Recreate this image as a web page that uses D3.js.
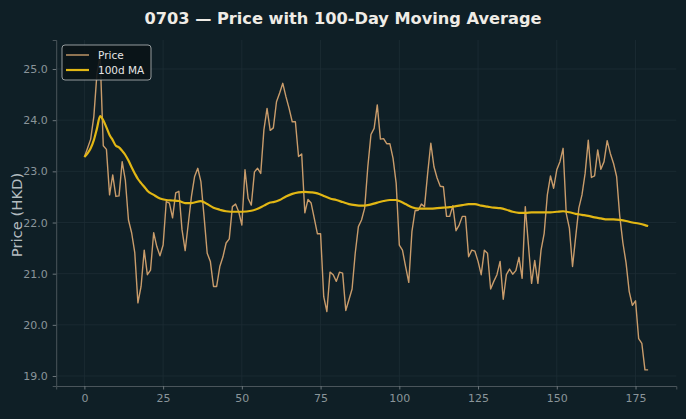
<!DOCTYPE html>
<html>
<head>
<meta charset="utf-8">
<script src="https://cdn.jsdelivr.net/npm/d3@7"></script>
<style>
  body { margin: 0; background: #0f1f26; }
  svg { display: block; }
</style>
</head>
<body>
<div id="container"></div>
<script>
let w = 686;
let h = 419;

// DATA
let price = [23.28, 23.45, 23.63, 24.07, 24.92, 25.26, 23.50, 23.43, 22.54, 22.93,
  22.51, 22.52, 23.19, 22.83, 22.05, 21.80, 21.41, 20.43, 20.75, 21.46,
  20.98, 21.07, 21.80, 21.53, 21.35, 21.56, 22.41, 22.38, 22.09, 22.58,
  22.61, 21.86, 21.45, 21.98, 22.51, 22.90, 23.06, 22.80, 22.12, 21.40,
  21.24, 20.75, 20.75, 21.14, 21.33, 21.60, 21.68, 22.31, 22.36, 22.21,
  21.95, 23.03, 22.47, 22.34, 22.99, 23.06, 22.96, 23.81, 24.23, 23.80,
  23.85, 24.36, 24.53, 24.72, 24.46, 24.23, 23.97, 23.97, 23.29, 23.34,
  22.19, 22.45, 22.38, 22.08, 21.78, 21.78, 20.55, 20.26, 21.03, 20.98,
  20.85, 21.03, 21.01, 20.28, 20.49, 20.70, 21.40, 21.92, 22.05, 22.28,
  23.09, 23.72, 23.84, 24.30, 23.63, 23.64, 23.54, 23.54, 23.26, 22.77,
  21.56, 21.46, 21.14, 20.83, 21.82, 22.23, 22.24, 22.36, 22.31, 22.96,
  23.55, 23.09, 22.87, 22.71, 22.70, 22.12, 22.12, 22.33, 21.84, 21.95,
  22.12, 22.12, 21.33, 21.46, 21.44, 21.24, 20.98, 21.46, 21.40, 20.70,
  20.85, 20.98, 21.24, 20.50, 20.98, 21.09, 20.99, 21.06, 21.32, 20.91,
  22.31, 21.56, 20.81, 21.26, 20.81, 21.46, 21.79, 22.54, 22.91, 22.67,
  23.03, 23.19, 23.45, 22.18, 21.89, 21.14, 21.72, 22.28, 22.54, 22.96,
  23.61, 22.88, 22.91, 23.42, 23.04, 23.19, 23.60, 23.35, 23.16, 22.90,
  22.12, 21.60, 21.21, 20.65, 20.38, 20.47, 19.73, 19.64, 19.12, 19.12];

let maDay = [0, 1, 2, 3, 4, 5, 6, 7, 8, 9, 10, 11, 12, 13, 14, 15, 16, 17, 18, 19, 20, 22, 24, 26, 28,
  30, 32, 34, 37, 39, 41, 43, 45, 48, 50, 53, 55, 57, 59, 60, 62, 64, 66, 68, 70, 72, 74, 76, 78, 80,
  82, 84, 86, 88, 90, 93, 95, 97, 99, 100, 102, 104, 106, 108, 110, 112, 114, 116, 118, 120, 122,
  124, 126, 128, 130, 132, 134, 136, 138, 140, 142, 144, 146, 148, 150, 152, 154, 156, 158, 160,
  162, 164, 166, 168, 170, 172, 174, 176, 178, 179];
let maValue = [23.28, 23.35, 23.45, 23.61, 23.84, 24.08, 24.00, 23.86, 23.71, 23.61, 23.50, 23.47, 23.40,
  23.32, 23.21, 23.08, 22.96, 22.85, 22.77, 22.70, 22.62, 22.54, 22.47, 22.44, 22.43,
  22.42, 22.38, 22.38, 22.42, 22.36, 22.29, 22.25, 22.22, 22.21, 22.21, 22.23, 22.27, 22.33, 22.39, 22.40,
  22.44, 22.51, 22.56, 22.59, 22.60, 22.59, 22.57, 22.52, 22.47, 22.44,
  22.40, 22.36, 22.34, 22.33, 22.34, 22.39, 22.42, 22.44, 22.44, 22.42, 22.36, 22.30, 22.27, 22.27,
  22.27, 22.28, 22.29, 22.30, 22.32, 22.34, 22.36,
  22.36, 22.33, 22.31, 22.29, 22.28, 22.25, 22.21, 22.19, 22.19, 22.20, 22.20, 22.20, 22.20, 22.21,
  22.22, 22.20, 22.17, 22.15, 22.13, 22.10, 22.08, 22.06, 22.06, 22.05, 22.03, 22.00, 21.98, 21.95, 21.93];

let xTicks = [0, 25, 50, 75, 100, 125, 150, 175];
let yTicks = [19, 20, 21, 22, 23, 24, 25];

let priceColor = "#c99c6b";
let maColor = "#e2b714";

// SVG
let viz = d3.select("#container").append("svg")
  .attr("width", w)
  .attr("height", h)
  .style("background-color", "#0f1f26");

let xScale = d3.scaleLinear().domain([-8.95, 187.95]).range([56.2, 676.3]);
let yScale = d3.scaleLinear().domain([18.805, 25.567]).range([386, 40]);

// grid
viz.selectAll(".vgrid").data(xTicks).enter()
  .append("line")
  .attr("x1", d => xScale(d)).attr("x2", d => xScale(d))
  .attr("y1", 40).attr("y2", 386)
  .attr("stroke", "#1d2d35").attr("stroke-width", 0.8);
viz.selectAll(".hgrid").data(yTicks).enter()
  .append("line")
  .attr("y1", d => yScale(d)).attr("y2", d => yScale(d))
  .attr("x1", 56.2).attr("x2", 676.3)
  .attr("stroke", "#1d2d35").attr("stroke-width", 0.8);

// axes
let xAxis = viz.append("g")
  .attr("transform", "translate(0,386)")
  .call(d3.axisBottom(xScale).tickValues(xTicks).tickSize(3.5).tickPadding(5));
let yAxis = viz.append("g")
  .attr("transform", "translate(56.2,0)")
  .call(d3.axisLeft(yScale).tickValues(yTicks).tickSize(3.5).tickPadding(5));

[xAxis, yAxis].forEach(a => {
  a.select(".domain").attr("stroke", "#4a555b");
  a.selectAll(".tick line").attr("stroke", "#6b757a");
  a.selectAll(".tick text")
    .attr("fill", "#8a959a")
    .style("font-family", "DejaVu Sans")
    .style("font-size", "11px");
});

// lines
let priceLine = d3.line()
  .x((d, i) => xScale(i))
  .y(d => yScale(d));

viz.append("path")
  .datum(price)
  .attr("d", priceLine)
  .attr("fill", "none")
  .attr("stroke", priceColor)
  .attr("stroke-width", 1.4)
  .attr("stroke-linejoin", "round");

let maLine = d3.line()
  .curve(d3.curveMonotoneX)
  .x((d, i) => xScale(maDay[i]))
  .y(d => yScale(d));

viz.append("path")
  .datum(maValue)
  .attr("d", maLine)
  .attr("fill", "none")
  .attr("stroke", maColor)
  .attr("stroke-width", 2.2)
  .attr("stroke-linejoin", "round");

// title
viz.append("text")
  .attr("x", 343)
  .attr("y", 24)
  .attr("text-anchor", "middle")
  .attr("fill", "#efece6")
  .style("font-family", "DejaVu Sans")
  .style("font-weight", "bold")
  .style("font-size", "16.2px")
  .text("0703 — Price with 100-Day Moving Average");

// y label
viz.append("text")
  .attr("transform", "translate(21.5,215) rotate(-90)")
  .attr("text-anchor", "middle")
  .attr("fill", "#b4bcc0")
  .style("font-family", "DejaVu Sans")
  .style("font-size", "14.8px")
  .text("Price (HKD)");

// legend
let legend = viz.append("g").attr("transform", "translate(62,45)");
legend.append("rect")
  .attr("width", 89).attr("height", 35)
  .attr("rx", 3)
  .attr("fill", "#0a1317").attr("fill-opacity", 0.9)
  .attr("stroke", "#b8bcbe").attr("stroke-width", 0.8);

let legendItems = [
  { label: "Price", color: priceColor, width: 1.4 },
  { label: "100d MA", color: maColor, width: 2.2 }
];
legendItems.forEach((d, i) => {
  let yy = 10 + i * 15;
  legend.append("line")
    .attr("x1", 4).attr("x2", 27)
    .attr("y1", yy).attr("y2", yy)
    .attr("stroke", d.color).attr("stroke-width", d.width);
  legend.append("text")
    .attr("x", 36).attr("y", yy + 3.8)
    .attr("fill", "#e6e6e6")
    .style("font-family", "DejaVu Sans")
    .style("font-size", "10.5px")
    .text(d.label);
});
</script>
</body>
</html>
